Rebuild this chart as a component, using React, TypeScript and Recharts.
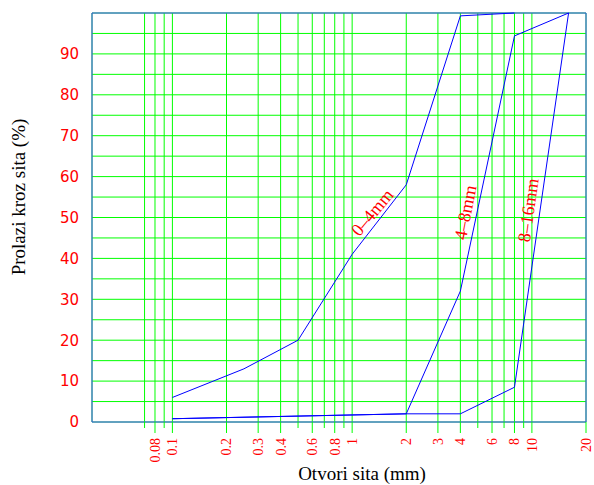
import {
  LineChart,
  Line,
  XAxis,
  YAxis,
  CartesianGrid,
  ReferenceArea,
  ReferenceDot,
} from "recharts";

// sieve openings (mm) and passing (%) per fraction
const sieves0_4 = [0.1, 0.25, 0.5, 1, 2, 4, 8];
const pass0_4 = [6, 13, 20, 41, 58, 99.3, 100];
const sieves4_8 = [0.1, 2, 4, 8, 16];
const pass4_8 = [0.8, 2, 32, 94.4, 100];
const sieves8_16 = [0.1, 2, 4, 8, 16];
const pass8_16 = [0.8, 2, 2, 8.5, 100];

const xGridTicks = [
  0.07, 0.08, 0.09, 0.1, 0.2, 0.3, 0.4, 0.5, 0.6, 0.7, 0.8, 0.9, 1, 2, 3, 4, 5,
  6, 7, 8, 9, 10, 20,
];
const xLabelled = [0.08, 0.1, 0.2, 0.3, 0.4, 0.6, 0.8, 1, 2, 3, 4, 6, 8, 10, 20];
const yTicks = [0, 5, 10, 15, 20, 25, 30, 35, 40, 45, 50, 55, 60, 65, 70, 75, 80, 85, 90, 95, 100];

const curveLabels = [
  { x: 1.29, y: 51.3, text: "0–4mm", angle: -50 },
  { x: 4.25, y: 51.3, text: "4–8mm", angle: -79 },
  { x: 9.5, y: 51.8, text: "8–16mm", angle: -82 },
];

const toPoints = (xs: number[], ys: number[]) => xs.map((x, i) => ({ x, y: ys[i] }));

const RED = "#ff0000";
const BLUE = "#0000ff";
const GREEN = "#00ff00";

function XTick(props: any) {
  const { x, y, payload } = props;
  const v = payload.value;
  const labelled = xLabelled.includes(v);
  return (
    <g>
      <line x1={x} x2={x} y1={y} y2={y + (labelled ? 11 : 6)} stroke={GREEN} />
      {labelled && (
        <text
          x={x}
          y={y + 16}
          transform={`rotate(-90, ${x}, ${y + 16})`}
          textAnchor="end"
          dy="0.35em"
          fill={RED}
          fontSize={14}
          fontFamily="Liberation Serif"
        >
          {String(v)}
        </text>
      )}
    </g>
  );
}

function XTitle() {
  return (
    <text x={362} y={480} textAnchor="middle" fontSize={19} fontFamily="Liberation Serif" fill="#000">
      Otvori sita (mm)
    </text>
  );
}

function YTitle() {
  return (
    <text
      x={25}
      y={197}
      transform="rotate(-90, 25, 197)"
      textAnchor="middle"
      fontSize={19}
      fontFamily="Liberation Serif"
      fill="#000"
    >
      Prolazi kroz sita (%)
    </text>
  );
}

export default function App() {
  return (
    <div style={{ position: "absolute", left: 0, top: 0, background: "#fff" }}>
      <LineChart width={594} height={485} margin={{ top: 13, right: 8, bottom: 0, left: 0 }}>
        <CartesianGrid stroke={GREEN} />
        <XAxis
          type="number"
          dataKey="x"
          scale="log"
          domain={[0.0357, 20]}
          allowDataOverflow
          ticks={xGridTicks}
          interval={0}
          height={63}
          axisLine={false}
          tickLine={false}
          tickSize={0}
          tickMargin={0}
          tick={<XTick />}
          label={<XTitle />}
        />
        <YAxis
          type="number"
          domain={[0, 100]}
          ticks={yTicks}
          interval={0}
          width={92}
          axisLine={false}
          tickLine={false}
          tickSize={0}
          tickMargin={13}
          tickFormatter={(v: number) => (v % 10 === 0 && v < 100 ? String(v) : "")}
          tick={{ fill: RED, fontSize: 15, fontFamily: "DejaVu Sans" }}
          label={<YTitle />}
        />
        <ReferenceArea
          x1={0.0357}
          x2={20}
          y1={0}
          y2={100}
          fill="none"
          stroke="#4444ff"
          ifOverflow="visible"
        />
        <Line
          data={toPoints(sieves0_4, pass0_4)}
          dataKey="y"
          type="linear"
          stroke={BLUE}
          strokeWidth={1}
          dot={false}
          isAnimationActive={false}
        />
        <Line
          data={toPoints(sieves4_8, pass4_8)}
          dataKey="y"
          type="linear"
          stroke={BLUE}
          strokeWidth={1}
          dot={false}
          isAnimationActive={false}
        />
        <Line
          data={toPoints(sieves8_16, pass8_16)}
          dataKey="y"
          type="linear"
          stroke={BLUE}
          strokeWidth={1}
          dot={false}
          isAnimationActive={false}
        />
        {curveLabels.map((l) => (
          <ReferenceDot
            key={l.text}
            x={l.x}
            y={l.y}
            r={1}
            fill="none"
            stroke="none"
            label={{
              value: l.text,
              position: "center",
              angle: l.angle,
              fill: RED,
              fontSize: 18,
              fontFamily: "Liberation Serif",
            }}
          />
        ))}
      </LineChart>
    </div>
  );
}
